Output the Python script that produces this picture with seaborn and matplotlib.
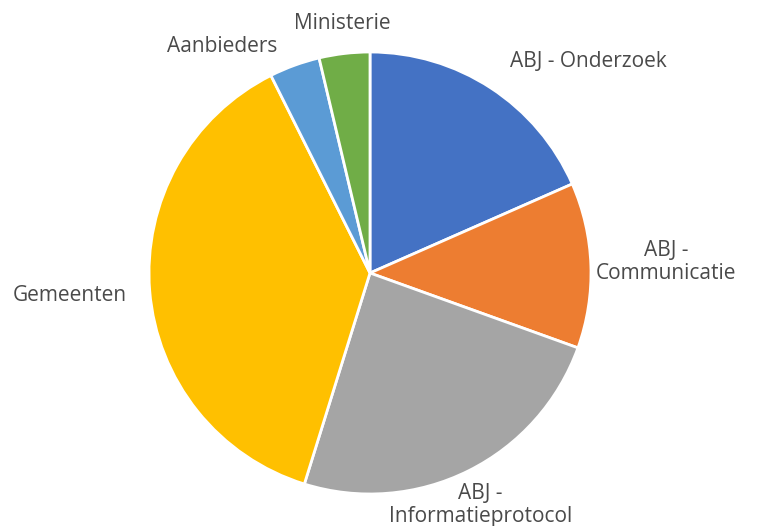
import matplotlib
matplotlib.use('Agg')
import matplotlib.pyplot as plt
import seaborn as sns

categories = ['ABJ - Onderzoek', 'ABJ -\nCommunicatie', 'ABJ -\nInformatieprotocol',
              'Gemeenten', 'Aanbieders', 'Ministerie']
shares = [18.4, 12.1, 24.3, 37.8, 3.7, 3.7]
colors = ['#4472C4', '#ED7D31', '#A5A5A5', '#FFC000', '#5B9BD5', '#70AD47']

# label centres in data units (pie radius = 1)
label_xy = [(0.99, 0.955), (1.34, 0.05), (0.50, -1.05),
            (-1.36, -0.10), (-0.67, 1.025), (-0.125, 1.13)]

sns.set_theme(style='white')
plt.rcParams['font.family'] = ['Open Sans', 'DejaVu Sans']

fig = plt.figure(figsize=(7.6, 5.26), dpi=100)
ax = fig.add_axes([0, 0, 1, 1])
wedges, texts = ax.pie(shares, labels=categories, colors=colors, startangle=90,
                       counterclock=False, radius=1.0,
                       wedgeprops={'edgecolor': 'white', 'linewidth': 2})
for t, (x, y) in zip(texts, label_xy):
    t.set_position((x, y))
    t.set_ha('center')
    t.set_va('center')
    t.set_fontsize(15)
    t.set_color('#4a4a4a')
    t.set_multialignment('center')
    t.set_linespacing(1.15)

ax.set_xlim(-370 / 221, 390 / 221)
ax.set_ylim(-253 / 221, 273 / 221)
ax.set_aspect('equal')
ax.axis('off')
fig.savefig('out.png', dpi=100, facecolor='white')
